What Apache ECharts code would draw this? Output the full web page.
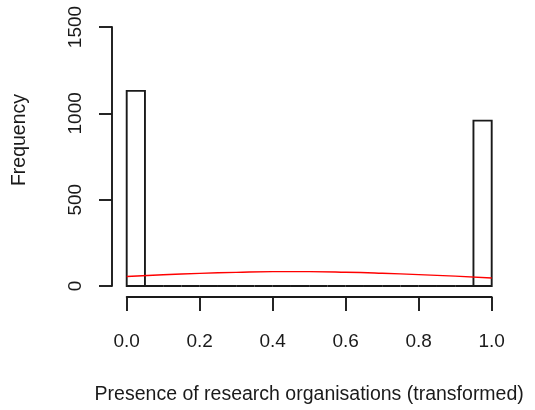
<!DOCTYPE html>
<html><head><meta charset="utf-8">
<script src="https://cdn.jsdelivr.net/npm/echarts@6/dist/echarts.min.js"></script>
<style>html,body{margin:0;padding:0;background:#fff}#c{width:535px;height:410px}</style>
</head><body><div id="c"></div>
<script>
// Histogram bins (start of each bin, width 0.05) and counts
const binStarts = [0.00,0.05,0.10,0.15,0.20,0.25,0.30,0.35,0.40,0.45,0.50,0.55,0.60,0.65,0.70,0.75,0.80,0.85,0.90,0.95];
const binCounts = [1130,0,0,0,0,0,0,0,0,0,0,0,0,0,0,0,0,0,0,958];
const binWidth = 0.05;
// Red reference curve
const curveX = [0.0,0.1,0.2,0.3,0.4,0.5,0.6,0.7,0.8,0.9,1.0];
const curveY = [55,65,73,79,83,83,80,74,66,57,46];
const xTicks = [0.0,0.2,0.4,0.6,0.8,1.0];
const yTicks = [0,500,1000,1500];
const xTitle = 'Presence of research organisations (transformed)';
const yTitle = 'Frequency';

const font = 'Liberation Sans, Arial, sans-serif';
const ink = '#1a1a1a';
const chart = echarts.init(document.getElementById('c'), null, {renderer:'canvas'});
chart.setOption({
  animation:false,
  grid:{left:126.7, right:43.3, top:27, bottom:124},
  xAxis:{type:'value', min:0, max:1, interval:0.2, offset:11,
    axisLine:{show:true, onZero:false, lineStyle:{color:ink, width:1.9}},
    axisTick:{show:true, length:14, lineStyle:{color:ink, width:1.9}},
    axisLabel:{color:ink, fontFamily:font, fontSize:19, margin:35,
      formatter:v=>{const t=xTicks.find(x=>Math.abs(x-v)<1e-9);return t===undefined?'':t.toFixed(1);}},
    splitLine:{show:false},
    name:xTitle, nameLocation:'middle', nameGap:88,
    nameTextStyle:{color:ink, fontFamily:font, fontSize:19.5}},
  yAxis:{type:'value', min:0, max:1500, interval:500, offset:14.7,
    axisLine:{show:true, onZero:false, lineStyle:{color:ink, width:1.9}},
    axisTick:{show:true, length:13, lineStyle:{color:ink, width:1.9}},
    axisLabel:{color:ink, fontFamily:font, fontSize:19, rotate:90, margin:27,
      formatter:v=>yTicks.includes(v)?String(v):''},
    splitLine:{show:false}},
  graphic:[{type:'text', x:20, y:140, rotation:Math.PI/2,
    style:{text:yTitle, fill:ink, font:'19.5px ' + font, align:'center', verticalAlign:'middle'}}],
  series:[
    {type:'custom',
     data:binStarts.map((s,i)=>[s, s+binWidth, binCounts[i]]),
     renderItem:(params, api)=>{
       const p0 = api.coord([api.value(0), 0]);
       const p1 = api.coord([api.value(1), api.value(2)]);
       return {type:'rect', shape:{x:p0[0], y:p1[1], width:p1[0]-p0[0], height:p0[1]-p1[1]},
         style:{fill:'transparent', stroke:ink, lineWidth:1.9}};
     }, z:2},
    {type:'line', data:curveX.map((x,i)=>[x, curveY[i]]), smooth:true, showSymbol:false,
     lineStyle:{color:'#ff0000', width:1.4}, z:3}
  ]
});
</script></body></html>
